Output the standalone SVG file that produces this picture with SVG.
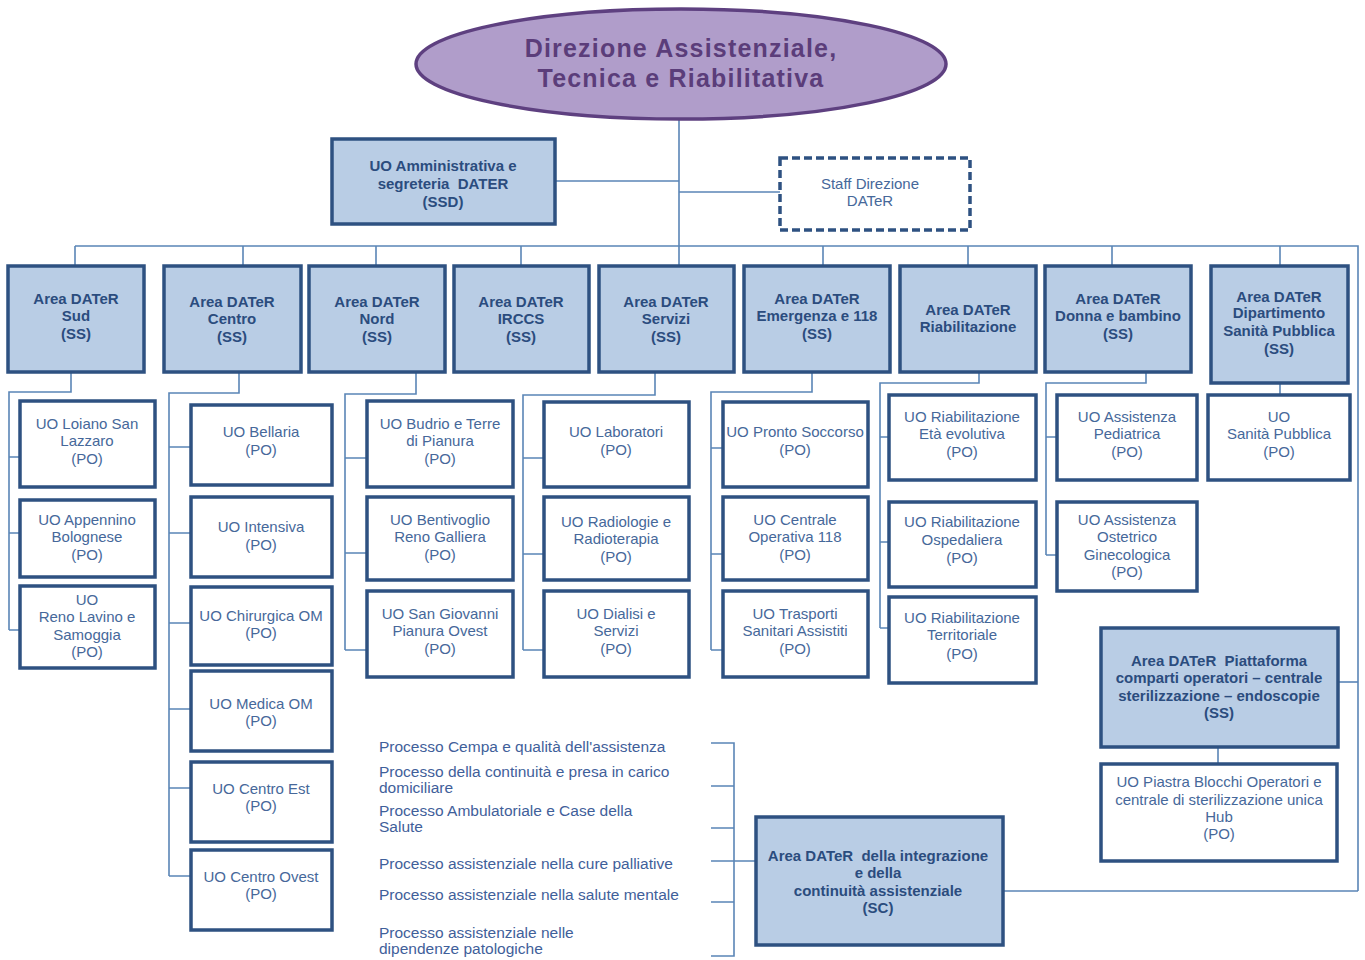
<svg xmlns="http://www.w3.org/2000/svg" width="1365" height="960" viewBox="0 0 1365 960">
<style>
.area rect{fill:#b9cde5;stroke:#2e5181;stroke-width:3.5}
.uo rect{fill:#ffffff;stroke:#2e5181;stroke-width:3.5}
.area text{font-family:"Liberation Sans",Arial,sans-serif;font-weight:bold;font-size:15px;fill:#2b4c7e;text-anchor:middle}
.uo text{font-family:"Liberation Sans",Arial,sans-serif;font-size:15px;fill:#46689a;text-anchor:middle}
.conn path{stroke:#5a85b6;stroke-width:1.6;fill:none}
.proc text{font-family:"Liberation Sans",Arial,sans-serif;font-size:15.5px;fill:#3f609a}
.title{font-family:"Liberation Sans",Arial,sans-serif;font-weight:bold;font-size:25px;fill:#5b3d7a;text-anchor:middle;letter-spacing:1.2px}
</style>
<rect width="1365" height="960" fill="#ffffff"/>

<g id="connectors" class="conn">
<path d="M679 120V266"/>
<path d="M555 181H679"/>
<path d="M679 192H780"/>
<path d="M75 246H1358V891"/>
<path d="M75 246V266M243 246V266M376 246V266M521 246V266M823 246V266M968 246V266M1112 246V266M1280 246V266"/>
<path d="M1338 682H1358"/>
<path d="M1003 891H1358"/>
<path d="M71 372V392H9V630"/>
<path d="M9 457H20M9 533H20M9 630H20"/>
<path d="M239 372V393H169V876"/>
<path d="M169 447H191M169 533H191M169 623H191M169 709H191M169 788H191M169 876H191"/>
<path d="M416 372V394H345V650"/>
<path d="M345 458H367M345 553H367M345 650H367"/>
<path d="M655 372V395H523V650"/>
<path d="M523 458H544M523 554H544M523 650H544"/>
<path d="M812 372V392H711V650"/>
<path d="M711 448H723M711 554H723M711 650H723"/>
<path d="M979 372V383H880V628"/>
<path d="M880 437H889M880 542H889M880 628H889"/>
<path d="M1146 372V383H1046V555"/>
<path d="M1046 437H1057M1046 555H1057"/>
<path d="M1280 383V395"/>
<path d="M1218 747V764"/>
<path d="M711 743H734V956H711"/>
<path d="M711 786H734M711 828H734M711 861H756M711 902H734"/>
</g>

<g id="direzione">
<ellipse cx="681" cy="64" rx="265" ry="55" fill="#b09dca" stroke="#5e4080" stroke-width="3.5"/>
<text class="title" x="681" y="57">Direzione Assistenziale,</text>
<text class="title" x="681" y="87">Tecnica e Riabilitativa</text>
</g>

<g id="uo-amministrativa" class="area">
<rect x="332" y="139" width="223" height="85"/>
<text x="443" y="171">UO Amministrativa e</text>
<text x="443" y="189">segreteria&#160; DATER</text>
<text x="443" y="207">(SSD)</text>
</g>

<g id="staff" class="uo">
<rect x="780" y="158" width="190" height="72" stroke-dasharray="8 4"/>
<text x="870" y="189">Staff Direzione</text>
<text x="870" y="206">DATeR</text>
</g>

<g id="area-sud" class="area">
<rect x="8" y="266" width="136" height="106"/>
<text x="76" y="304">Area DATeR</text><text x="76" y="321">Sud</text><text x="76" y="339">(SS)</text>
</g>
<g id="area-centro" class="area">
<rect x="164" y="266" width="137" height="106"/>
<text x="232" y="307">Area DATeR</text><text x="232" y="324">Centro</text><text x="232" y="342">(SS)</text>
</g>
<g id="area-nord" class="area">
<rect x="309" y="266" width="136" height="106"/>
<text x="377" y="307">Area DATeR</text><text x="377" y="324">Nord</text><text x="377" y="342">(SS)</text>
</g>
<g id="area-irccs" class="area">
<rect x="454" y="266" width="135" height="106"/>
<text x="521" y="307">Area DATeR</text><text x="521" y="324">IRCCS</text><text x="521" y="342">(SS)</text>
</g>
<g id="area-servizi" class="area">
<rect x="599" y="266" width="135" height="106"/>
<text x="666" y="307">Area DATeR</text><text x="666" y="324">Servizi</text><text x="666" y="342">(SS)</text>
</g>
<g id="area-emergenza" class="area">
<rect x="744" y="266" width="146" height="106"/>
<text x="817" y="304">Area DATeR</text><text x="817" y="321">Emergenza e 118</text><text x="817" y="339">(SS)</text>
</g>
<g id="area-riabilitazione" class="area">
<rect x="900" y="266" width="136" height="106"/>
<text x="968" y="315">Area DATeR</text><text x="968" y="332">Riabilitazione</text>
</g>
<g id="area-donna" class="area">
<rect x="1045" y="266" width="146" height="106"/>
<text x="1118" y="304">Area DATeR</text><text x="1118" y="321">Donna e bambino</text><text x="1118" y="339">(SS)</text>
</g>
<g id="area-sanita" class="area">
<rect x="1211" y="266" width="137" height="117"/>
<text x="1279" y="302">Area DATeR</text><text x="1279" y="318">Dipartimento</text><text x="1279" y="336">Sanità Pubblica</text><text x="1279" y="354">(SS)</text>
</g>

<g id="uo-loiano" class="uo">
<rect x="20" y="401" width="135" height="86"/>
<text x="87" y="429">UO Loiano San</text><text x="87" y="446">Lazzaro</text><text x="87" y="464">(PO)</text>
</g>
<g id="uo-appennino" class="uo">
<rect x="20" y="500" width="135" height="77"/>
<text x="87" y="525">UO Appennino</text><text x="87" y="542">Bolognese</text><text x="87" y="560">(PO)</text>
</g>
<g id="uo-reno" class="uo">
<rect x="20" y="586" width="135" height="82"/>
<text x="87" y="605">UO</text><text x="87" y="622">Reno Lavino e</text><text x="87" y="640">Samoggia</text><text x="87" y="657">(PO)</text>
</g>

<g id="uo-bellaria" class="uo">
<rect x="191" y="405" width="141" height="80"/>
<text x="261" y="437">UO Bellaria</text><text x="261" y="455">(PO)</text>
</g>
<g id="uo-intensiva" class="uo">
<rect x="191" y="497" width="141" height="80"/>
<text x="261" y="532">UO Intensiva</text><text x="261" y="550">(PO)</text>
</g>
<g id="uo-chirurgica" class="uo">
<rect x="191" y="587" width="141" height="78"/>
<text x="261" y="621">UO Chirurgica OM</text><text x="261" y="638">(PO)</text>
</g>
<g id="uo-medica" class="uo">
<rect x="191" y="671" width="141" height="80"/>
<text x="261" y="709">UO Medica OM</text><text x="261" y="726">(PO)</text>
</g>
<g id="uo-centro-est" class="uo">
<rect x="191" y="762" width="141" height="80"/>
<text x="261" y="794">UO Centro Est</text><text x="261" y="811">(PO)</text>
</g>
<g id="uo-centro-ovest" class="uo">
<rect x="191" y="850" width="141" height="80"/>
<text x="261" y="882">UO Centro Ovest</text><text x="261" y="899">(PO)</text>
</g>

<g id="uo-budrio" class="uo">
<rect x="367" y="401" width="146" height="86"/>
<text x="440" y="429">UO Budrio e Terre</text><text x="440" y="446">di Pianura</text><text x="440" y="464">(PO)</text>
</g>
<g id="uo-bentivoglio" class="uo">
<rect x="367" y="497" width="146" height="83"/>
<text x="440" y="525">UO Bentivoglio</text><text x="440" y="542">Reno Galliera</text><text x="440" y="560">(PO)</text>
</g>
<g id="uo-san-giovanni" class="uo">
<rect x="367" y="591" width="146" height="86"/>
<text x="440" y="619">UO San Giovanni</text><text x="440" y="636">Pianura Ovest</text><text x="440" y="654">(PO)</text>
</g>

<g id="uo-laboratori" class="uo">
<rect x="544" y="402" width="145" height="85"/>
<text x="616" y="437">UO Laboratori</text><text x="616" y="455">(PO)</text>
</g>
<g id="uo-radiologie" class="uo">
<rect x="544" y="497" width="145" height="83"/>
<text x="616" y="527">UO Radiologie e</text><text x="616" y="544">Radioterapia</text><text x="616" y="562">(PO)</text>
</g>
<g id="uo-dialisi" class="uo">
<rect x="544" y="591" width="145" height="86"/>
<text x="616" y="619">UO Dialisi e</text><text x="616" y="636">Servizi</text><text x="616" y="654">(PO)</text>
</g>

<g id="uo-pronto-soccorso" class="uo">
<rect x="723" y="402" width="145" height="85"/>
<text x="795" y="437">UO Pronto Soccorso</text><text x="795" y="455">(PO)</text>
</g>
<g id="uo-centrale-118" class="uo">
<rect x="723" y="497" width="145" height="83"/>
<text x="795" y="525">UO Centrale</text><text x="795" y="542">Operativa 118</text><text x="795" y="560">(PO)</text>
</g>
<g id="uo-trasporti" class="uo">
<rect x="723" y="591" width="145" height="86"/>
<text x="795" y="619">UO Trasporti</text><text x="795" y="636">Sanitari Assistiti</text><text x="795" y="654">(PO)</text>
</g>

<g id="uo-riab-eta" class="uo">
<rect x="889" y="395" width="147" height="85"/>
<text x="962" y="422">UO Riabilitazione</text><text x="962" y="439">Età evolutiva</text><text x="962" y="457">(PO)</text>
</g>
<g id="uo-riab-ospedaliera" class="uo">
<rect x="889" y="502" width="147" height="85"/>
<text x="962" y="527">UO Riabilitazione</text><text x="962" y="545">Ospedaliera</text><text x="962" y="563">(PO)</text>
</g>
<g id="uo-riab-territoriale" class="uo">
<rect x="889" y="597" width="147" height="86"/>
<text x="962" y="623">UO Riabilitazione</text><text x="962" y="640">Territoriale</text><text x="962" y="659">(PO)</text>
</g>

<g id="uo-pediatrica" class="uo">
<rect x="1057" y="395" width="140" height="85"/>
<text x="1127" y="422">UO Assistenza</text><text x="1127" y="439">Pediatrica</text><text x="1127" y="457">(PO)</text>
</g>
<g id="uo-ostetrico" class="uo">
<rect x="1057" y="502" width="140" height="89"/>
<text x="1127" y="525">UO Assistenza</text><text x="1127" y="542">Ostetrico</text><text x="1127" y="560">Ginecologica</text><text x="1127" y="577">(PO)</text>
</g>

<g id="uo-sanita-pubblica" class="uo">
<rect x="1208" y="395" width="142" height="85"/>
<text x="1279" y="422">UO</text><text x="1279" y="439">Sanità Pubblica</text><text x="1279" y="457">(PO)</text>
</g>

<g id="area-piattaforma" class="area">
<rect x="1101" y="628" width="237" height="119"/>
<text x="1219" y="666">Area DATeR&#160; Piattaforma</text>
<text x="1219" y="683">comparti operatori – centrale</text>
<text x="1219" y="701">sterilizzazione – endoscopie</text>
<text x="1219" y="718">(SS)</text>
</g>
<g id="uo-piastra" class="uo">
<rect x="1101" y="764" width="236" height="97"/>
<text x="1219" y="787">UO Piastra Blocchi Operatori e</text>
<text x="1219" y="805">centrale di sterilizzazione unica</text>
<text x="1219" y="822">Hub</text>
<text x="1219" y="839">(PO)</text>
</g>

<g id="area-integrazione" class="area">
<rect x="756" y="817" width="247" height="128"/>
<text x="878" y="861">Area DATeR&#160; della integrazione</text>
<text x="878" y="878">e della</text>
<text x="878" y="896">continuità assistenziale</text>
<text x="878" y="913">(SC)</text>
</g>

<g id="processi" class="proc">
<text x="379" y="752">Processo Cempa e qualità dell'assistenza</text>
<text x="379" y="777">Processo della continuità e presa in carico</text>
<text x="379" y="793">domiciliare</text>
<text x="379" y="816">Processo Ambulatoriale e Case della</text>
<text x="379" y="832">Salute</text>
<text x="379" y="869">Processo assistenziale nella cure palliative</text>
<text x="379" y="900">Processo assistenziale nella salute mentale</text>
<text x="379" y="938">Processo assistenziale nelle</text>
<text x="379" y="954">dipendenze patologiche</text>
</g>
</svg>
